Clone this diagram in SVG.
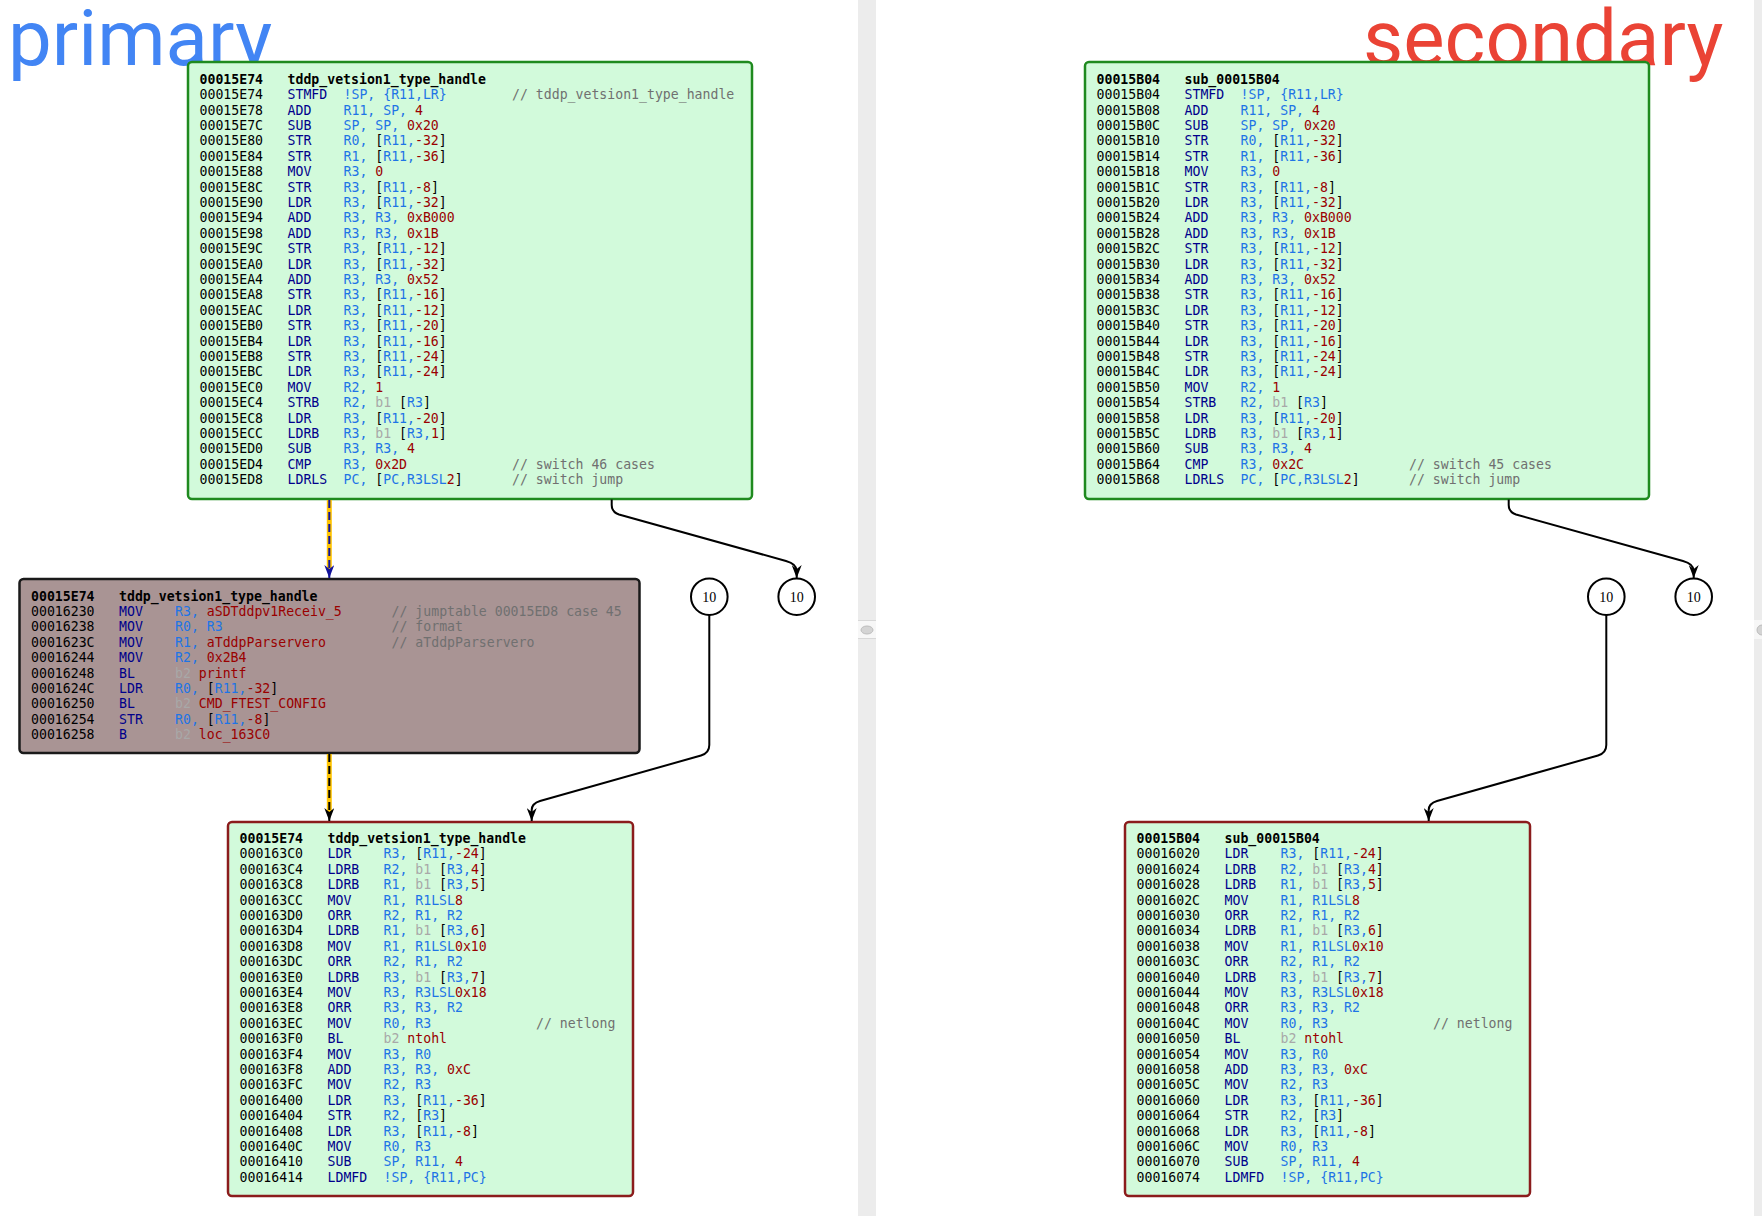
<svg xmlns="http://www.w3.org/2000/svg" width="1762" height="1216" viewBox="0 0 1762 1216">
<style>
.t{font-family:"DejaVu Sans Mono","Liberation Mono",monospace;font-size:13.2px;white-space:pre;fill:#000}
.h{font-weight:bold}
.m{fill:#00008b}
.r{fill:#1e74e6}
.n{fill:#9a0000}
.k{fill:#000}
.g{fill:#a8a8a8}
.c{fill:#707070}
.ttl{font-family:Roboto,"Liberation Sans",sans-serif;font-size:78px}
.bg{fill:#d2fadb;stroke:#1f8a1f;stroke-width:2.5}
.br{fill:#d2fadb;stroke:#8b1c1c;stroke-width:2.5}
.bb{fill:#a99494;stroke:#1a1a1a;stroke-width:2.5}
.cir{fill:#fff;stroke:#000;stroke-width:2}
.cn{font-family:"Liberation Serif",serif;font-size:14px;fill:#000;text-anchor:middle}
.e{fill:none;stroke:#000;stroke-width:2}
</style>
<defs>
<marker id="ab" viewBox="0 0 13 10" refX="13" refY="5" markerWidth="13" markerHeight="10" markerUnits="userSpaceOnUse" orient="auto"><path d="M0,0 L13,5 L0,10 L4,5 z" fill="#000"/></marker>
<marker id="an" viewBox="0 0 13 10" refX="13" refY="5" markerWidth="13" markerHeight="10" markerUnits="userSpaceOnUse" orient="auto"><path d="M0,0 L13,5 L0,10 L4,5 z" fill="#12129a"/></marker>
</defs>
<rect x="0" y="0" width="1762" height="1216" fill="#fff"/>
<g id="dividers">
<rect x="858" y="0" width="18" height="1216" fill="#ececec"/>
<rect x="858" y="620" width="18" height="19" fill="#f7f7f7"/>
<line x1="858" y1="620.5" x2="876" y2="620.5" stroke="#d8d8d8"/>
<line x1="858" y1="638.5" x2="876" y2="638.5" stroke="#d8d8d8"/>
<ellipse cx="867" cy="630" rx="6" ry="4" fill="#d4d4d4" stroke="#bcbcbc"/>
<rect x="1754" y="0" width="8" height="1216" fill="#ececec"/>
<rect x="1754" y="620" width="8" height="19" fill="#f7f7f7"/>
<ellipse cx="1762" cy="630" rx="5" ry="5" fill="#d4d4d4" stroke="#bcbcbc"/>
</g>
<g id="titles">
<text class="ttl" x="8" y="65" fill="#4285f4">primary</text>
<text class="ttl" x="1363" y="65" fill="#ea4335">secondary</text>
</g>

<g id="p_entry">
<rect class="bg" x="188" y="62" width="564" height="437" rx="4"/>
<g transform="translate(188,62)">
<text class="t h" y="21.8"><tspan x="11.5">00015E74</tspan><tspan x="99.5">tddp_vetsion1_type_handle</tspan></text>
<text class="t" y="37.2"><tspan x="11.5">00015E74</tspan><tspan x="99.5" class="m">STMFD</tspan><tspan x="155.5" class="r">!SP, {R11,LR}</tspan><tspan x="324" class="c">// tddp_vetsion1_type_handle</tspan></text>
<text class="t" y="52.6"><tspan x="11.5">00015E78</tspan><tspan x="99.5" class="m">ADD</tspan><tspan x="155.5" class="r">R11, SP, </tspan><tspan class="n">4</tspan></text>
<text class="t" y="68"><tspan x="11.5">00015E7C</tspan><tspan x="99.5" class="m">SUB</tspan><tspan x="155.5" class="r">SP, SP, </tspan><tspan class="n">0x20</tspan></text>
<text class="t" y="83.4"><tspan x="11.5">00015E80</tspan><tspan x="99.5" class="m">STR</tspan><tspan x="155.5" class="r">R0, </tspan><tspan>[</tspan><tspan class="r">R11,</tspan><tspan class="n">-32</tspan><tspan>]</tspan></text>
<text class="t" y="98.8"><tspan x="11.5">00015E84</tspan><tspan x="99.5" class="m">STR</tspan><tspan x="155.5" class="r">R1, </tspan><tspan>[</tspan><tspan class="r">R11,</tspan><tspan class="n">-36</tspan><tspan>]</tspan></text>
<text class="t" y="114.2"><tspan x="11.5">00015E88</tspan><tspan x="99.5" class="m">MOV</tspan><tspan x="155.5" class="r">R3, </tspan><tspan class="n">0</tspan></text>
<text class="t" y="129.6"><tspan x="11.5">00015E8C</tspan><tspan x="99.5" class="m">STR</tspan><tspan x="155.5" class="r">R3, </tspan><tspan>[</tspan><tspan class="r">R11,</tspan><tspan class="n">-8</tspan><tspan>]</tspan></text>
<text class="t" y="145"><tspan x="11.5">00015E90</tspan><tspan x="99.5" class="m">LDR</tspan><tspan x="155.5" class="r">R3, </tspan><tspan>[</tspan><tspan class="r">R11,</tspan><tspan class="n">-32</tspan><tspan>]</tspan></text>
<text class="t" y="160.4"><tspan x="11.5">00015E94</tspan><tspan x="99.5" class="m">ADD</tspan><tspan x="155.5" class="r">R3, R3, </tspan><tspan class="n">0xB000</tspan></text>
<text class="t" y="175.8"><tspan x="11.5">00015E98</tspan><tspan x="99.5" class="m">ADD</tspan><tspan x="155.5" class="r">R3, R3, </tspan><tspan class="n">0x1B</tspan></text>
<text class="t" y="191.2"><tspan x="11.5">00015E9C</tspan><tspan x="99.5" class="m">STR</tspan><tspan x="155.5" class="r">R3, </tspan><tspan>[</tspan><tspan class="r">R11,</tspan><tspan class="n">-12</tspan><tspan>]</tspan></text>
<text class="t" y="206.6"><tspan x="11.5">00015EA0</tspan><tspan x="99.5" class="m">LDR</tspan><tspan x="155.5" class="r">R3, </tspan><tspan>[</tspan><tspan class="r">R11,</tspan><tspan class="n">-32</tspan><tspan>]</tspan></text>
<text class="t" y="222"><tspan x="11.5">00015EA4</tspan><tspan x="99.5" class="m">ADD</tspan><tspan x="155.5" class="r">R3, R3, </tspan><tspan class="n">0x52</tspan></text>
<text class="t" y="237.4"><tspan x="11.5">00015EA8</tspan><tspan x="99.5" class="m">STR</tspan><tspan x="155.5" class="r">R3, </tspan><tspan>[</tspan><tspan class="r">R11,</tspan><tspan class="n">-16</tspan><tspan>]</tspan></text>
<text class="t" y="252.8"><tspan x="11.5">00015EAC</tspan><tspan x="99.5" class="m">LDR</tspan><tspan x="155.5" class="r">R3, </tspan><tspan>[</tspan><tspan class="r">R11,</tspan><tspan class="n">-12</tspan><tspan>]</tspan></text>
<text class="t" y="268.2"><tspan x="11.5">00015EB0</tspan><tspan x="99.5" class="m">STR</tspan><tspan x="155.5" class="r">R3, </tspan><tspan>[</tspan><tspan class="r">R11,</tspan><tspan class="n">-20</tspan><tspan>]</tspan></text>
<text class="t" y="283.6"><tspan x="11.5">00015EB4</tspan><tspan x="99.5" class="m">LDR</tspan><tspan x="155.5" class="r">R3, </tspan><tspan>[</tspan><tspan class="r">R11,</tspan><tspan class="n">-16</tspan><tspan>]</tspan></text>
<text class="t" y="299"><tspan x="11.5">00015EB8</tspan><tspan x="99.5" class="m">STR</tspan><tspan x="155.5" class="r">R3, </tspan><tspan>[</tspan><tspan class="r">R11,</tspan><tspan class="n">-24</tspan><tspan>]</tspan></text>
<text class="t" y="314.4"><tspan x="11.5">00015EBC</tspan><tspan x="99.5" class="m">LDR</tspan><tspan x="155.5" class="r">R3, </tspan><tspan>[</tspan><tspan class="r">R11,</tspan><tspan class="n">-24</tspan><tspan>]</tspan></text>
<text class="t" y="329.8"><tspan x="11.5">00015EC0</tspan><tspan x="99.5" class="m">MOV</tspan><tspan x="155.5" class="r">R2, </tspan><tspan class="n">1</tspan></text>
<text class="t" y="345.2"><tspan x="11.5">00015EC4</tspan><tspan x="99.5" class="m">STRB</tspan><tspan x="155.5" class="r">R2, </tspan><tspan class="g">b1 </tspan><tspan>[</tspan><tspan class="r">R3</tspan><tspan>]</tspan></text>
<text class="t" y="360.6"><tspan x="11.5">00015EC8</tspan><tspan x="99.5" class="m">LDR</tspan><tspan x="155.5" class="r">R3, </tspan><tspan>[</tspan><tspan class="r">R11,</tspan><tspan class="n">-20</tspan><tspan>]</tspan></text>
<text class="t" y="376"><tspan x="11.5">00015ECC</tspan><tspan x="99.5" class="m">LDRB</tspan><tspan x="155.5" class="r">R3, </tspan><tspan class="g">b1 </tspan><tspan>[</tspan><tspan class="r">R3,</tspan><tspan class="n">1</tspan><tspan>]</tspan></text>
<text class="t" y="391.4"><tspan x="11.5">00015ED0</tspan><tspan x="99.5" class="m">SUB</tspan><tspan x="155.5" class="r">R3, R3, </tspan><tspan class="n">4</tspan></text>
<text class="t" y="406.8"><tspan x="11.5">00015ED4</tspan><tspan x="99.5" class="m">CMP</tspan><tspan x="155.5" class="r">R3, </tspan><tspan class="n">0x2D</tspan><tspan x="324" class="c">// switch 46 cases</tspan></text>
<text class="t" y="422.2"><tspan x="11.5">00015ED8</tspan><tspan x="99.5" class="m">LDRLS</tspan><tspan x="155.5" class="r">PC, </tspan><tspan>[</tspan><tspan class="r">PC,R3LSL</tspan><tspan class="n">2</tspan><tspan>]</tspan><tspan x="324" class="c">// switch jump</tspan></text>
</g>
</g>

<g id="p_case45">
<rect class="bb" x="19.5" y="579" width="620" height="174" rx="4"/>
<g transform="translate(19.5,579)">
<text class="t h" y="21.6"><tspan x="11.5">00015E74</tspan><tspan x="99.5">tddp_vetsion1_type_handle</tspan></text>
<text class="t" y="37"><tspan x="11.5">00016230</tspan><tspan x="99.5" class="m">MOV</tspan><tspan x="155.5" class="r">R3, </tspan><tspan class="n">aSDTddpv1Receiv_5</tspan><tspan x="372" class="c">// jumptable 00015ED8 case 45</tspan></text>
<text class="t" y="52.4"><tspan x="11.5">00016238</tspan><tspan x="99.5" class="m">MOV</tspan><tspan x="155.5" class="r">R0, R3</tspan><tspan x="372" class="c">// format</tspan></text>
<text class="t" y="67.8"><tspan x="11.5">0001623C</tspan><tspan x="99.5" class="m">MOV</tspan><tspan x="155.5" class="r">R1, </tspan><tspan class="n">aTddpParservero</tspan><tspan x="372" class="c">// aTddpParservero</tspan></text>
<text class="t" y="83.2"><tspan x="11.5">00016244</tspan><tspan x="99.5" class="m">MOV</tspan><tspan x="155.5" class="r">R2, </tspan><tspan class="n">0x2B4</tspan></text>
<text class="t" y="98.6"><tspan x="11.5">00016248</tspan><tspan x="99.5" class="m">BL</tspan><tspan x="155.5" class="g">b2 </tspan><tspan class="n">printf</tspan></text>
<text class="t" y="114"><tspan x="11.5">0001624C</tspan><tspan x="99.5" class="m">LDR</tspan><tspan x="155.5" class="r">R0, </tspan><tspan>[</tspan><tspan class="r">R11,</tspan><tspan class="n">-32</tspan><tspan>]</tspan></text>
<text class="t" y="129.4"><tspan x="11.5">00016250</tspan><tspan x="99.5" class="m">BL</tspan><tspan x="155.5" class="g">b2 </tspan><tspan class="n">CMD_FTEST_CONFIG</tspan></text>
<text class="t" y="144.8"><tspan x="11.5">00016254</tspan><tspan x="99.5" class="m">STR</tspan><tspan x="155.5" class="r">R0, </tspan><tspan>[</tspan><tspan class="r">R11,</tspan><tspan class="n">-8</tspan><tspan>]</tspan></text>
<text class="t" y="160.2"><tspan x="11.5">00016258</tspan><tspan x="99.5" class="m">B</tspan><tspan x="155.5" class="g">b2 </tspan><tspan class="n">loc_163C0</tspan></text>
</g>
</g>

<g id="p_exit">
<rect class="br" x="228" y="822" width="405" height="374" rx="4"/>
<g transform="translate(228,821.4)">
<text class="t h" y="21.6"><tspan x="11.5">00015E74</tspan><tspan x="99.5">tddp_vetsion1_type_handle</tspan></text>
<text class="t" y="37"><tspan x="11.5">000163C0</tspan><tspan x="99.5" class="m">LDR</tspan><tspan x="155.5" class="r">R3, </tspan><tspan>[</tspan><tspan class="r">R11,</tspan><tspan class="n">-24</tspan><tspan>]</tspan></text>
<text class="t" y="52.4"><tspan x="11.5">000163C4</tspan><tspan x="99.5" class="m">LDRB</tspan><tspan x="155.5" class="r">R2, </tspan><tspan class="g">b1 </tspan><tspan>[</tspan><tspan class="r">R3,</tspan><tspan class="n">4</tspan><tspan>]</tspan></text>
<text class="t" y="67.8"><tspan x="11.5">000163C8</tspan><tspan x="99.5" class="m">LDRB</tspan><tspan x="155.5" class="r">R1, </tspan><tspan class="g">b1 </tspan><tspan>[</tspan><tspan class="r">R3,</tspan><tspan class="n">5</tspan><tspan>]</tspan></text>
<text class="t" y="83.2"><tspan x="11.5">000163CC</tspan><tspan x="99.5" class="m">MOV</tspan><tspan x="155.5" class="r">R1, R1LSL</tspan><tspan class="n">8</tspan></text>
<text class="t" y="98.6"><tspan x="11.5">000163D0</tspan><tspan x="99.5" class="m">ORR</tspan><tspan x="155.5" class="r">R2, R1, R2</tspan></text>
<text class="t" y="114"><tspan x="11.5">000163D4</tspan><tspan x="99.5" class="m">LDRB</tspan><tspan x="155.5" class="r">R1, </tspan><tspan class="g">b1 </tspan><tspan>[</tspan><tspan class="r">R3,</tspan><tspan class="n">6</tspan><tspan>]</tspan></text>
<text class="t" y="129.4"><tspan x="11.5">000163D8</tspan><tspan x="99.5" class="m">MOV</tspan><tspan x="155.5" class="r">R1, R1LSL</tspan><tspan class="n">0x10</tspan></text>
<text class="t" y="144.8"><tspan x="11.5">000163DC</tspan><tspan x="99.5" class="m">ORR</tspan><tspan x="155.5" class="r">R2, R1, R2</tspan></text>
<text class="t" y="160.2"><tspan x="11.5">000163E0</tspan><tspan x="99.5" class="m">LDRB</tspan><tspan x="155.5" class="r">R3, </tspan><tspan class="g">b1 </tspan><tspan>[</tspan><tspan class="r">R3,</tspan><tspan class="n">7</tspan><tspan>]</tspan></text>
<text class="t" y="175.6"><tspan x="11.5">000163E4</tspan><tspan x="99.5" class="m">MOV</tspan><tspan x="155.5" class="r">R3, R3LSL</tspan><tspan class="n">0x18</tspan></text>
<text class="t" y="191"><tspan x="11.5">000163E8</tspan><tspan x="99.5" class="m">ORR</tspan><tspan x="155.5" class="r">R3, R3, R2</tspan></text>
<text class="t" y="206.4"><tspan x="11.5">000163EC</tspan><tspan x="99.5" class="m">MOV</tspan><tspan x="155.5" class="r">R0, R3</tspan><tspan x="308" class="c">// netlong</tspan></text>
<text class="t" y="221.8"><tspan x="11.5">000163F0</tspan><tspan x="99.5" class="m">BL</tspan><tspan x="155.5" class="g">b2 </tspan><tspan class="n">ntohl</tspan></text>
<text class="t" y="237.2"><tspan x="11.5">000163F4</tspan><tspan x="99.5" class="m">MOV</tspan><tspan x="155.5" class="r">R3, R0</tspan></text>
<text class="t" y="252.6"><tspan x="11.5">000163F8</tspan><tspan x="99.5" class="m">ADD</tspan><tspan x="155.5" class="r">R3, R3, </tspan><tspan class="n">0xC</tspan></text>
<text class="t" y="268"><tspan x="11.5">000163FC</tspan><tspan x="99.5" class="m">MOV</tspan><tspan x="155.5" class="r">R2, R3</tspan></text>
<text class="t" y="283.4"><tspan x="11.5">00016400</tspan><tspan x="99.5" class="m">LDR</tspan><tspan x="155.5" class="r">R3, </tspan><tspan>[</tspan><tspan class="r">R11,</tspan><tspan class="n">-36</tspan><tspan>]</tspan></text>
<text class="t" y="298.8"><tspan x="11.5">00016404</tspan><tspan x="99.5" class="m">STR</tspan><tspan x="155.5" class="r">R2, </tspan><tspan>[</tspan><tspan class="r">R3</tspan><tspan>]</tspan></text>
<text class="t" y="314.2"><tspan x="11.5">00016408</tspan><tspan x="99.5" class="m">LDR</tspan><tspan x="155.5" class="r">R3, </tspan><tspan>[</tspan><tspan class="r">R11,</tspan><tspan class="n">-8</tspan><tspan>]</tspan></text>
<text class="t" y="329.6"><tspan x="11.5">0001640C</tspan><tspan x="99.5" class="m">MOV</tspan><tspan x="155.5" class="r">R0, R3</tspan></text>
<text class="t" y="345"><tspan x="11.5">00016410</tspan><tspan x="99.5" class="m">SUB</tspan><tspan x="155.5" class="r">SP, R11, </tspan><tspan class="n">4</tspan></text>
<text class="t" y="360.4"><tspan x="11.5">00016414</tspan><tspan x="99.5" class="m">LDMFD</tspan><tspan x="155.5" class="r">!SP, {R11,PC}</tspan></text>
</g>
</g>

<g id="s_entry">
<rect class="bg" x="1085" y="62" width="564" height="437" rx="4"/>
<g transform="translate(1085,62)">
<text class="t h" y="21.8"><tspan x="11.5">00015B04</tspan><tspan x="99.5">sub_00015B04</tspan></text>
<text class="t" y="37.2"><tspan x="11.5">00015B04</tspan><tspan x="99.5" class="m">STMFD</tspan><tspan x="155.5" class="r">!SP, {R11,LR}</tspan></text>
<text class="t" y="52.6"><tspan x="11.5">00015B08</tspan><tspan x="99.5" class="m">ADD</tspan><tspan x="155.5" class="r">R11, SP, </tspan><tspan class="n">4</tspan></text>
<text class="t" y="68"><tspan x="11.5">00015B0C</tspan><tspan x="99.5" class="m">SUB</tspan><tspan x="155.5" class="r">SP, SP, </tspan><tspan class="n">0x20</tspan></text>
<text class="t" y="83.4"><tspan x="11.5">00015B10</tspan><tspan x="99.5" class="m">STR</tspan><tspan x="155.5" class="r">R0, </tspan><tspan>[</tspan><tspan class="r">R11,</tspan><tspan class="n">-32</tspan><tspan>]</tspan></text>
<text class="t" y="98.8"><tspan x="11.5">00015B14</tspan><tspan x="99.5" class="m">STR</tspan><tspan x="155.5" class="r">R1, </tspan><tspan>[</tspan><tspan class="r">R11,</tspan><tspan class="n">-36</tspan><tspan>]</tspan></text>
<text class="t" y="114.2"><tspan x="11.5">00015B18</tspan><tspan x="99.5" class="m">MOV</tspan><tspan x="155.5" class="r">R3, </tspan><tspan class="n">0</tspan></text>
<text class="t" y="129.6"><tspan x="11.5">00015B1C</tspan><tspan x="99.5" class="m">STR</tspan><tspan x="155.5" class="r">R3, </tspan><tspan>[</tspan><tspan class="r">R11,</tspan><tspan class="n">-8</tspan><tspan>]</tspan></text>
<text class="t" y="145"><tspan x="11.5">00015B20</tspan><tspan x="99.5" class="m">LDR</tspan><tspan x="155.5" class="r">R3, </tspan><tspan>[</tspan><tspan class="r">R11,</tspan><tspan class="n">-32</tspan><tspan>]</tspan></text>
<text class="t" y="160.4"><tspan x="11.5">00015B24</tspan><tspan x="99.5" class="m">ADD</tspan><tspan x="155.5" class="r">R3, R3, </tspan><tspan class="n">0xB000</tspan></text>
<text class="t" y="175.8"><tspan x="11.5">00015B28</tspan><tspan x="99.5" class="m">ADD</tspan><tspan x="155.5" class="r">R3, R3, </tspan><tspan class="n">0x1B</tspan></text>
<text class="t" y="191.2"><tspan x="11.5">00015B2C</tspan><tspan x="99.5" class="m">STR</tspan><tspan x="155.5" class="r">R3, </tspan><tspan>[</tspan><tspan class="r">R11,</tspan><tspan class="n">-12</tspan><tspan>]</tspan></text>
<text class="t" y="206.6"><tspan x="11.5">00015B30</tspan><tspan x="99.5" class="m">LDR</tspan><tspan x="155.5" class="r">R3, </tspan><tspan>[</tspan><tspan class="r">R11,</tspan><tspan class="n">-32</tspan><tspan>]</tspan></text>
<text class="t" y="222"><tspan x="11.5">00015B34</tspan><tspan x="99.5" class="m">ADD</tspan><tspan x="155.5" class="r">R3, R3, </tspan><tspan class="n">0x52</tspan></text>
<text class="t" y="237.4"><tspan x="11.5">00015B38</tspan><tspan x="99.5" class="m">STR</tspan><tspan x="155.5" class="r">R3, </tspan><tspan>[</tspan><tspan class="r">R11,</tspan><tspan class="n">-16</tspan><tspan>]</tspan></text>
<text class="t" y="252.8"><tspan x="11.5">00015B3C</tspan><tspan x="99.5" class="m">LDR</tspan><tspan x="155.5" class="r">R3, </tspan><tspan>[</tspan><tspan class="r">R11,</tspan><tspan class="n">-12</tspan><tspan>]</tspan></text>
<text class="t" y="268.2"><tspan x="11.5">00015B40</tspan><tspan x="99.5" class="m">STR</tspan><tspan x="155.5" class="r">R3, </tspan><tspan>[</tspan><tspan class="r">R11,</tspan><tspan class="n">-20</tspan><tspan>]</tspan></text>
<text class="t" y="283.6"><tspan x="11.5">00015B44</tspan><tspan x="99.5" class="m">LDR</tspan><tspan x="155.5" class="r">R3, </tspan><tspan>[</tspan><tspan class="r">R11,</tspan><tspan class="n">-16</tspan><tspan>]</tspan></text>
<text class="t" y="299"><tspan x="11.5">00015B48</tspan><tspan x="99.5" class="m">STR</tspan><tspan x="155.5" class="r">R3, </tspan><tspan>[</tspan><tspan class="r">R11,</tspan><tspan class="n">-24</tspan><tspan>]</tspan></text>
<text class="t" y="314.4"><tspan x="11.5">00015B4C</tspan><tspan x="99.5" class="m">LDR</tspan><tspan x="155.5" class="r">R3, </tspan><tspan>[</tspan><tspan class="r">R11,</tspan><tspan class="n">-24</tspan><tspan>]</tspan></text>
<text class="t" y="329.8"><tspan x="11.5">00015B50</tspan><tspan x="99.5" class="m">MOV</tspan><tspan x="155.5" class="r">R2, </tspan><tspan class="n">1</tspan></text>
<text class="t" y="345.2"><tspan x="11.5">00015B54</tspan><tspan x="99.5" class="m">STRB</tspan><tspan x="155.5" class="r">R2, </tspan><tspan class="g">b1 </tspan><tspan>[</tspan><tspan class="r">R3</tspan><tspan>]</tspan></text>
<text class="t" y="360.6"><tspan x="11.5">00015B58</tspan><tspan x="99.5" class="m">LDR</tspan><tspan x="155.5" class="r">R3, </tspan><tspan>[</tspan><tspan class="r">R11,</tspan><tspan class="n">-20</tspan><tspan>]</tspan></text>
<text class="t" y="376"><tspan x="11.5">00015B5C</tspan><tspan x="99.5" class="m">LDRB</tspan><tspan x="155.5" class="r">R3, </tspan><tspan class="g">b1 </tspan><tspan>[</tspan><tspan class="r">R3,</tspan><tspan class="n">1</tspan><tspan>]</tspan></text>
<text class="t" y="391.4"><tspan x="11.5">00015B60</tspan><tspan x="99.5" class="m">SUB</tspan><tspan x="155.5" class="r">R3, R3, </tspan><tspan class="n">4</tspan></text>
<text class="t" y="406.8"><tspan x="11.5">00015B64</tspan><tspan x="99.5" class="m">CMP</tspan><tspan x="155.5" class="r">R3, </tspan><tspan class="n">0x2C</tspan><tspan x="324" class="c">// switch 45 cases</tspan></text>
<text class="t" y="422.2"><tspan x="11.5">00015B68</tspan><tspan x="99.5" class="m">LDRLS</tspan><tspan x="155.5" class="r">PC, </tspan><tspan>[</tspan><tspan class="r">PC,R3LSL</tspan><tspan class="n">2</tspan><tspan>]</tspan><tspan x="324" class="c">// switch jump</tspan></text>
</g>
</g>

<g id="s_exit">
<rect class="br" x="1125" y="822" width="405" height="374" rx="4"/>
<g transform="translate(1125,821.4)">
<text class="t h" y="21.6"><tspan x="11.5">00015B04</tspan><tspan x="99.5">sub_00015B04</tspan></text>
<text class="t" y="37"><tspan x="11.5">00016020</tspan><tspan x="99.5" class="m">LDR</tspan><tspan x="155.5" class="r">R3, </tspan><tspan>[</tspan><tspan class="r">R11,</tspan><tspan class="n">-24</tspan><tspan>]</tspan></text>
<text class="t" y="52.4"><tspan x="11.5">00016024</tspan><tspan x="99.5" class="m">LDRB</tspan><tspan x="155.5" class="r">R2, </tspan><tspan class="g">b1 </tspan><tspan>[</tspan><tspan class="r">R3,</tspan><tspan class="n">4</tspan><tspan>]</tspan></text>
<text class="t" y="67.8"><tspan x="11.5">00016028</tspan><tspan x="99.5" class="m">LDRB</tspan><tspan x="155.5" class="r">R1, </tspan><tspan class="g">b1 </tspan><tspan>[</tspan><tspan class="r">R3,</tspan><tspan class="n">5</tspan><tspan>]</tspan></text>
<text class="t" y="83.2"><tspan x="11.5">0001602C</tspan><tspan x="99.5" class="m">MOV</tspan><tspan x="155.5" class="r">R1, R1LSL</tspan><tspan class="n">8</tspan></text>
<text class="t" y="98.6"><tspan x="11.5">00016030</tspan><tspan x="99.5" class="m">ORR</tspan><tspan x="155.5" class="r">R2, R1, R2</tspan></text>
<text class="t" y="114"><tspan x="11.5">00016034</tspan><tspan x="99.5" class="m">LDRB</tspan><tspan x="155.5" class="r">R1, </tspan><tspan class="g">b1 </tspan><tspan>[</tspan><tspan class="r">R3,</tspan><tspan class="n">6</tspan><tspan>]</tspan></text>
<text class="t" y="129.4"><tspan x="11.5">00016038</tspan><tspan x="99.5" class="m">MOV</tspan><tspan x="155.5" class="r">R1, R1LSL</tspan><tspan class="n">0x10</tspan></text>
<text class="t" y="144.8"><tspan x="11.5">0001603C</tspan><tspan x="99.5" class="m">ORR</tspan><tspan x="155.5" class="r">R2, R1, R2</tspan></text>
<text class="t" y="160.2"><tspan x="11.5">00016040</tspan><tspan x="99.5" class="m">LDRB</tspan><tspan x="155.5" class="r">R3, </tspan><tspan class="g">b1 </tspan><tspan>[</tspan><tspan class="r">R3,</tspan><tspan class="n">7</tspan><tspan>]</tspan></text>
<text class="t" y="175.6"><tspan x="11.5">00016044</tspan><tspan x="99.5" class="m">MOV</tspan><tspan x="155.5" class="r">R3, R3LSL</tspan><tspan class="n">0x18</tspan></text>
<text class="t" y="191"><tspan x="11.5">00016048</tspan><tspan x="99.5" class="m">ORR</tspan><tspan x="155.5" class="r">R3, R3, R2</tspan></text>
<text class="t" y="206.4"><tspan x="11.5">0001604C</tspan><tspan x="99.5" class="m">MOV</tspan><tspan x="155.5" class="r">R0, R3</tspan><tspan x="308" class="c">// netlong</tspan></text>
<text class="t" y="221.8"><tspan x="11.5">00016050</tspan><tspan x="99.5" class="m">BL</tspan><tspan x="155.5" class="g">b2 </tspan><tspan class="n">ntohl</tspan></text>
<text class="t" y="237.2"><tspan x="11.5">00016054</tspan><tspan x="99.5" class="m">MOV</tspan><tspan x="155.5" class="r">R3, R0</tspan></text>
<text class="t" y="252.6"><tspan x="11.5">00016058</tspan><tspan x="99.5" class="m">ADD</tspan><tspan x="155.5" class="r">R3, R3, </tspan><tspan class="n">0xC</tspan></text>
<text class="t" y="268"><tspan x="11.5">0001605C</tspan><tspan x="99.5" class="m">MOV</tspan><tspan x="155.5" class="r">R2, R3</tspan></text>
<text class="t" y="283.4"><tspan x="11.5">00016060</tspan><tspan x="99.5" class="m">LDR</tspan><tspan x="155.5" class="r">R3, </tspan><tspan>[</tspan><tspan class="r">R11,</tspan><tspan class="n">-36</tspan><tspan>]</tspan></text>
<text class="t" y="298.8"><tspan x="11.5">00016064</tspan><tspan x="99.5" class="m">STR</tspan><tspan x="155.5" class="r">R2, </tspan><tspan>[</tspan><tspan class="r">R3</tspan><tspan>]</tspan></text>
<text class="t" y="314.2"><tspan x="11.5">00016068</tspan><tspan x="99.5" class="m">LDR</tspan><tspan x="155.5" class="r">R3, </tspan><tspan>[</tspan><tspan class="r">R11,</tspan><tspan class="n">-8</tspan><tspan>]</tspan></text>
<text class="t" y="329.6"><tspan x="11.5">0001606C</tspan><tspan x="99.5" class="m">MOV</tspan><tspan x="155.5" class="r">R0, R3</tspan></text>
<text class="t" y="345"><tspan x="11.5">00016070</tspan><tspan x="99.5" class="m">SUB</tspan><tspan x="155.5" class="r">SP, R11, </tspan><tspan class="n">4</tspan></text>
<text class="t" y="360.4"><tspan x="11.5">00016074</tspan><tspan x="99.5" class="m">LDMFD</tspan><tspan x="155.5" class="r">!SP, {R11,PC}</tspan></text>
</g>
</g>

<g id="p_ref1"><circle class="cir" cx="709.3" cy="596.7" r="18.3"/><text class="cn" x="709.3" y="601.5">10</text></g>
<g id="p_ref2"><circle class="cir" cx="796.7" cy="596.7" r="18.3"/><text class="cn" x="796.7" y="601.5">10</text></g>
<g id="s_ref1"><circle class="cir" cx="1606.3" cy="596.7" r="18.3"/><text class="cn" x="1606.3" y="601.5">10</text></g>
<g id="s_ref2"><circle class="cir" cx="1693.7" cy="596.7" r="18.3"/><text class="cn" x="1693.7" y="601.5">10</text></g>

<g id="connectors">
<line x1="329.3" y1="500" x2="329.3" y2="570" stroke="#ffc400" stroke-width="5"/>
<path d="M329.3,500 L329.3,578" fill="none" stroke="#12129a" stroke-width="2" stroke-dasharray="8,4" marker-end="url(#an)"/>
<line x1="329.3" y1="754" x2="329.3" y2="813" stroke="#ffc400" stroke-width="5"/>
<path d="M329.3,754 L329.3,821" fill="none" stroke="#000" stroke-width="2" stroke-dasharray="8,4" marker-end="url(#ab)"/>
<path class="e" d="M611.7,499.5 L611.7,505 Q611.7,512 619,514.5 L786,561 Q796.7,564 796.7,571 L796.7,578" marker-end="url(#ab)"/>
<path class="e" d="M709.3,615 L709.3,745 Q709.3,753 701,755.5 L540,801 Q531.7,803.5 531.7,810 L531.7,821" marker-end="url(#ab)"/>
<path class="e" d="M1508.7,499.5 L1508.7,505 Q1508.7,512 1516,514.5 L1683,561 Q1693.7,564 1693.7,571 L1693.7,578" marker-end="url(#ab)"/>
<path class="e" d="M1606.3,615 L1606.3,745 Q1606.3,753 1598,755.5 L1437,801 Q1428.7,803.5 1428.7,810 L1428.7,821" marker-end="url(#ab)"/>
</g>
</svg>
